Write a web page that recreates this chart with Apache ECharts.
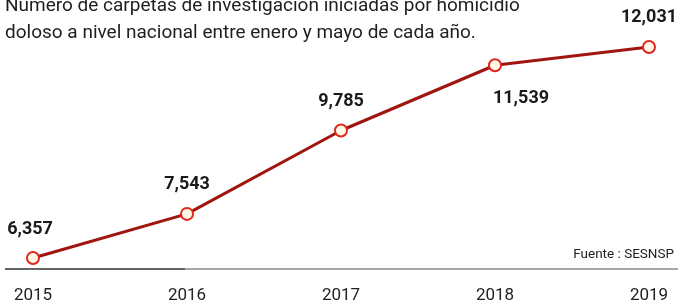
<!DOCTYPE html>
<html><head><meta charset="utf-8">
<script src="https://cdn.jsdelivr.net/npm/echarts@6/dist/echarts.min.js"></script>
<style>html,body{margin:0;padding:0;background:#fff;}#c{width:678px;height:308px;}</style>
</head><body><div id="c"></div>
<script>
const years = ['2015','2016','2017','2018','2019'];
const values = [6357, 7543, 9785, 11539, 12031];
const labelPositions = ['top','top','top','bottom','top'];
const titleLines = ['Número de carpetas de investigación iniciadas por homicidio','doloso a nivel nacional entre enero y mayo de cada año.'];
const sourceText = 'Fuente : SESNSP';

const chart = echarts.init(document.getElementById('c'), null, {renderer:'canvas'});
const font = 'Roboto, "Liberation Sans", sans-serif';
const labelOffsets = [[-3,0],[0,0],[0,0],[26,0],[0,0]];
chart.setOption({
  animation:false,
  grid:{left:33, right:29, top:29.5, height:241.8},
  xAxis:{type:'category', data:years, boundaryGap:false,
    axisLine:{show:false}, axisTick:{show:false}, splitLine:{show:false},
    axisLabel:{margin:16, fontSize:17, color:'#222', fontFamily:font}},
  yAxis:{type:'value', min:6000, max:12500, show:false, splitLine:{show:false}},
  graphic:[
    {type:'text', left:5, top:-7, style:{text:titleLines.join('\n'), font:'19px '+font, fill:'#1e1e1e', lineHeight:27}},
    {type:'text', right:4, top:248, style:{text:sourceText, font:'13.5px '+font, fill:'#222'}},
    {type:'line', shape:{x1:5,y1:269,x2:185,y2:269}, style:{stroke:'#333', lineWidth:1.5}},
    {type:'line', shape:{x1:185,y1:269,x2:678,y2:269}, style:{stroke:'#8a8a8a', lineWidth:1.5}}
  ],
  series:[{
    type:'line', data:values.map((v,i)=>({value:v, label:{position:labelPositions[i], distance: labelPositions[i]==='bottom'?17:13,
      offset: labelOffsets[i]}})),
    lineStyle:{color:'#a0150f', width:3},
    symbol:'circle', symbolSize:12,
    itemStyle:{color:'#fffbe8', borderColor:'#e3261c', borderWidth:2},
    label:{show:true, fontSize:18, fontWeight:'bold', color:'#1a1a1a', fontFamily:font,
      formatter:p=>p.value.toLocaleString('en-US')},
    z:3
  }]
});
</script></body></html>
